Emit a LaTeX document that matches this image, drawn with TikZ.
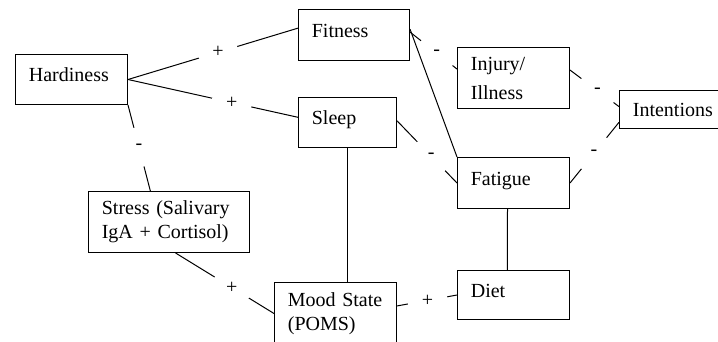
\documentclass[tikz,border=0pt]{standalone}
\usepackage{fontspec}
\setmainfont{Liberation Serif}
\begin{document}
\begin{tikzpicture}[x=0.6pt, y=-0.6pt, line width=0.6pt,
            box/.style={draw, anchor=north west, align=left, inner xsep=8pt, inner ysep=0pt, font=\fontsize{12}{14.4}\selectfont},
            oneline/.style={text height=8pt, text depth=5.5pt},
            sign/.style={circle, fill=white, inner sep=0pt, minimum size=24pt, font=\fontsize{12}{14.4}\selectfont}]
            \useasboundingbox (0,0) rectangle (718,341);
            \node[box, oneline, text width=51.2pt, minimum height=30pt] (hard) at (15,54) {Hardiness};
            \node[box, oneline, text width=50.6pt, minimum height=30.6pt] (fit) at (298,9) {Fitness};
            \node[box, oneline, text width=42.8pt, minimum height=30pt] (sleep) at (298,97) {Sleep};
            \node[box, text width=51.2pt, minimum height=36.6pt] (inj) at (457,47) {Injury/\\[3pt]Illness};
            \node[box, text width=50pt, minimum height=22.8pt] (int) at (619,90) {Intentions};
            \node[box, oneline, text width=51.2pt, minimum height=30.6pt] (fat) at (457,157) {Fatigue};
            \node[box, oneline, text width=51.2pt, minimum height=29.4pt] (diet) at (457,270) {Diet};
            \node[box, text width=57.2pt, minimum height=37.2pt] (mood) at (274,282) {Mood State\\(POMS)};
            \node[box, text width=80.6pt, minimum height=36.6pt] (stress) at (88,191) {Stress (Salivary\\IgA + Cortisol)};
            \draw (hard.east) -- node[sign, pos=0.53] (hfsign) {+} (fit.173);
            \draw (hard.east) -- node[sign, pos=0.61] (hssign) {+} (sleep.174);
            \draw (hard.south east) -- node[sign, pos=0.49] (htsign) {-} (stress.121);
            \draw (fit.3) -- node[sign, pos=0.57] (fisign) {-} (inj.171);
            \draw (sleep.2) -- node[sign, pos=0.57] (sfsign) {-} (fat.west);
            \draw (inj.8) -- node[sign, pos=0.56] (iisign) {-} (int.177);
            \draw (fat.east) -- node[sign, pos=0.49] (fisign2) {-} (int.193);
            \draw (stress.282) -- node[sign, pos=0.57] (smsign) {+} (mood.west);
            \draw (mood.7) -- node[sign, pos=0.51] (mdsign) {+} (diet.west);
            \draw (fit.6) -- (fat.north west);
            \draw (sleep.south) -- (sleep.south |- mood.north);
            \draw (fat.257) -- (diet.104);
        \end{tikzpicture}
\end{document}
